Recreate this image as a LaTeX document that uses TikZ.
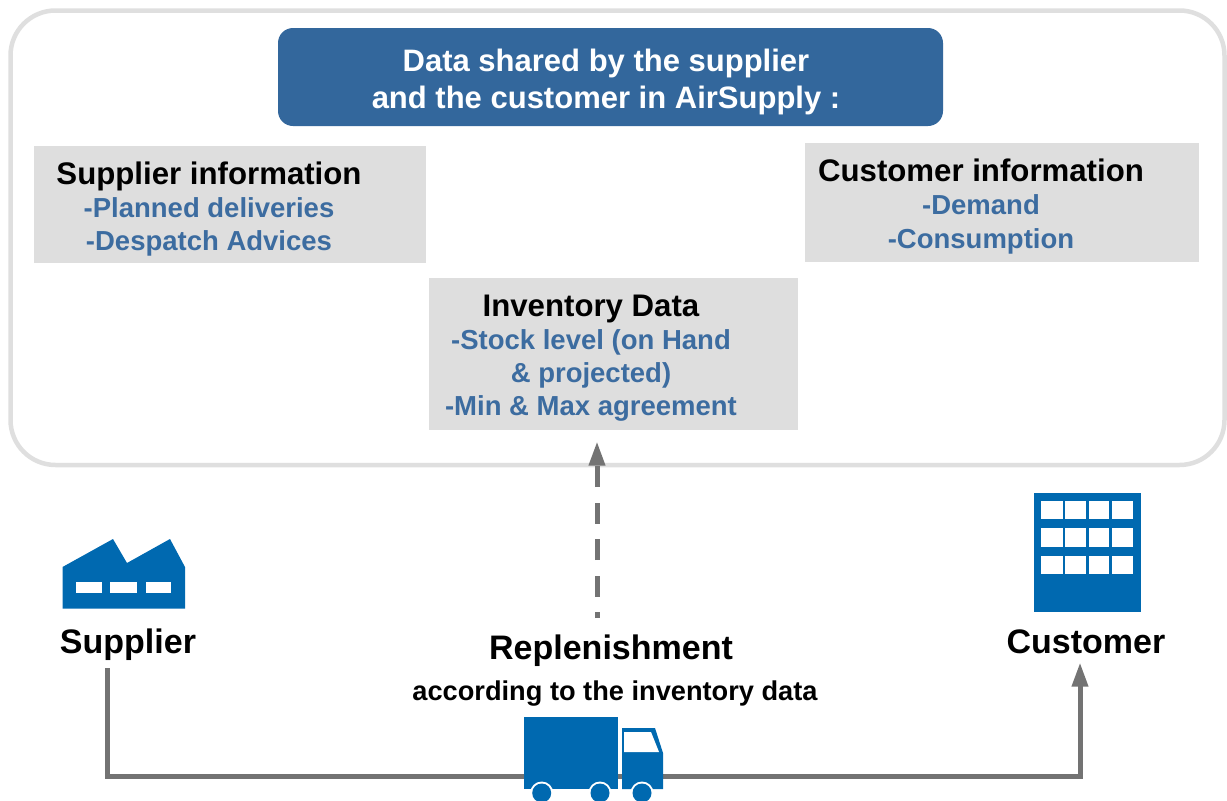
\documentclass[tikz,border=0pt]{standalone}
\usepackage{fontspec}
\setmainfont{Liberation Sans}
\usetikzlibrary{arrows.meta}
\definecolor{icon}{HTML}{0069B0}
\definecolor{titlebg}{HTML}{33679C}
\definecolor{boxbg}{HTML}{DEDEDE}
\definecolor{panel}{HTML}{DFDFDF}
\definecolor{arrowc}{HTML}{737373}
\definecolor{bluetxt}{HTML}{3C6CA0}
\newcommand{\headf}{\fontsize{31.2}{33}\selectfont\bfseries}
\newcommand{\subf}{\fontsize{27.5}{33}\selectfont\bfseries\color{bluetxt}}
\tikzset{
  panelbox/.style={draw=panel,line width=4.5pt,rounded corners=45pt,fill=white},
  titlebox/.style={fill=titlebg,rounded corners=15pt},
  infobox/.style={fill=boxbg},
  info/.style={align=center,inner sep=0pt,font=\fontsize{27.5}{33.2}\selectfont},
  label/.style={anchor=base,inner sep=0pt,font=\fontsize{34}{38}\selectfont\bfseries},
  flow/.style={draw=arrowc,line width=5pt,-{Triangle[length=24pt,width=15.5pt]}},
  iconfill/.style={fill=icon},
  hole/.style={fill=white},
}
\begin{document}
\begin{tikzpicture}[x=1pt,y=-1pt]
\useasboundingbox (0,0) rectangle (1227,801);
% panel and boxes
\draw[panelbox] (10.5,10.5) rectangle (1224.5,465);
\fill[titlebox] (278,28) rectangle (943,126);
\node[info,text=white,font=\fontsize{31}{37}\selectfont\bfseries] (title) at (606,82) {Data shared by the supplier\\and the customer in AirSupply :};
\fill[infobox] (33.5,146) rectangle (426,263);
\fill[infobox] (804.5,143) rectangle (1199,262);
\fill[infobox] (428.5,278) rectangle (798,430);
\node[info] (supinfo) at (209,209) {{\headf Supplier information}\\{\subf -Planned deliveries}\\{\subf -Despatch Advices}};
\node[info] (cusinfo) at (981,206.5) {{\headf Customer information}\\{\subf -Demand}\\{\subf -Consumption}};
\node[info] (invinfo) at (591,358) {{\headf Inventory Data}\\{\subf -Stock level (on Hand}\\{\subf \& projected)}\\{\subf -Min \& Max agreement}};
% labels
\node[label] (supplier) at (128,653.5) {Supplier};
\node[label] (customer) at (1086,653.5) {Customer};
\node[label] (replen) at (611,659.5) {Replenishment};
\node[label,font=\fontsize{27.2}{30}\selectfont\bfseries] (according) at (615,700.5) {according to the inventory data};
% connectors
\coordinate (supstart) at (107,668);
\coordinate (cusend) at (1080,662.5);
\coordinate (invend) at (597,441.5);
\coordinate (repstart) at (597,618);
\draw[flow] (supstart) |- (cusend |- 0,776) -- (cusend);
\draw[flow,dash pattern=on 21pt off 15.5pt,dash phase=15pt] (repstart) -- (invend);
% factory
\fill[iconfill] (62.5,567) -- (113,539) -- (127,563) -- (170,539) -- (185,567) -- (185,608.5) -- (62.5,608.5) -- cycle;
\fill[hole] (76,582) rectangle (102,593);
\fill[hole] (110,582) rectangle (136.5,593);
\fill[hole] (145.5,582) rectangle (171,593);
% building
\fill[iconfill] (1033.7,492.7) rectangle (1141,612.3);
\foreach \ya/\yb in {500.7/519,528.3/546.7,555.7/574}{
  \foreach \xa/\xb in {1040.5/1062.5,1065/1085.5,1088.5/1109,1111.5/1133}{
    \fill[hole] (\xa,\ya) rectangle (\xb,\yb);
  }
}
% truck
\fill[iconfill] (523.5,717) rectangle (618,789);
\fill[iconfill] (622,728) -- (655,728) -- (663,753) -- (663,789) -- (622,789) -- cycle;
\fill[hole] (624,732) -- (651,732) -- (659,752) -- (624,752) -- cycle;
\foreach \cx in {541.7,600,642}{
  \fill[hole] (\cx,793) circle (11.5);
  \fill[iconfill] (\cx,793) circle (9.5);
}
\end{tikzpicture}
\end{document}
